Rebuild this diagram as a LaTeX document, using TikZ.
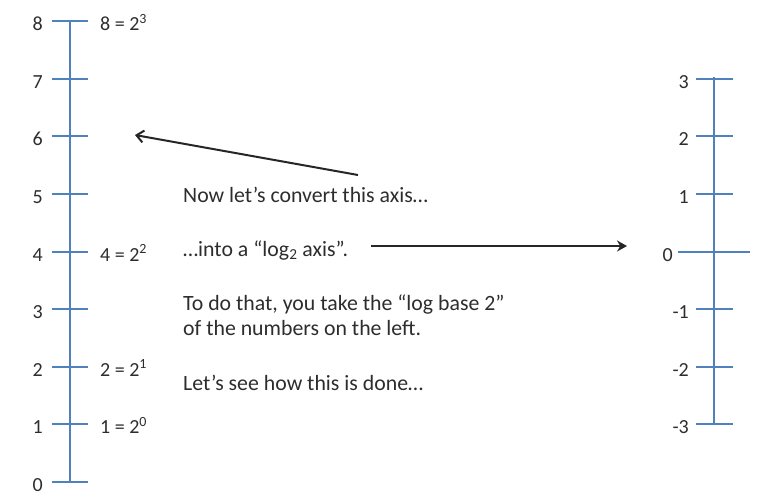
\documentclass[tikz,border=0pt]{standalone}
\usepackage{fontspec}
\setmainfont{Carlito}
\usetikzlibrary{arrows.meta}
\definecolor{axisblue}{RGB}{79,129,189}
\definecolor{textgray}{RGB}{45,45,45}
\begin{document}
\begin{tikzpicture}
[x=1pt,y=-1pt,
  axisDecorate/.style={draw=axisblue,line width=2pt},
  arrowDecorate/.style={line width=2pt,draw=black!85},
  labelDecorate/.style={font=\fontsize{20}{25}\selectfont,text=textgray,inner sep=0pt},
  textDecorate/.style={labelDecorate,font=\fontsize{21.8}{26}\selectfont,anchor=base west}]
\useasboundingbox (0,0) rectangle (783,499);
%% left axis
\draw[axisDecorate] (70,21) -- (70,482);
\foreach \k in {0,...,8}
{
  \draw[axisDecorate] (52,{482-57.6*\k}) -- (88,{482-57.6*\k});
  \node[labelDecorate,anchor=base east] (l\k) at (43,{491.5-57.6*\k}) {\k};
}
%% powers of two
\foreach \k/\p in {8/3, 4/2, 2/1, 1/0}
{
  \node[labelDecorate,anchor=base west] (p\k) at (100,{491.5-57.6*\k})
    {\k{} = 2\textsuperscript{\p}};
}
%% right axis
\draw[axisDecorate] (714,77) -- (714,424);
\foreach \j in {-3,...,3}
{
  \ifnum\j=0
    \draw[axisDecorate] (678,{251.6-57.6*\j}) -- (750,{251.6-57.6*\j});
    \node[labelDecorate,anchor=base east] (r\j) at (673,{261.1-57.6*\j}) {\j};
  \else
    \draw[axisDecorate] (696,{251.6-57.6*\j}) -- (733,{251.6-57.6*\j});
    \node[labelDecorate,anchor=base east] (r\j) at (689,{261.1-57.6*\j}) {\j};
  \fi
}
%% text
\node[textDecorate] (convert) at (183,202) {Now let’s convert this axis…};
\node[textDecorate] (into) at (183,256) {…into a “log\textsubscript{2} axis”.};
\node[textDecorate] (takelog) at (183,310) {To do that, you take the “log base 2”};
\node[textDecorate] (numbers) at (183,335) {of the numbers on the left.};
\node[textDecorate] (seehow) at (183,390) {Let’s see how this is done…};
%% arrows
\coordinate (convertTail) at (358,175);
\coordinate (convertHead) at (135,135);
\coordinate (intoTail) at (371,246);
\coordinate (intoHead) at (627,246);
\draw[arrowDecorate,-{Straight Barb[length=7pt,width=12pt]}] (convertTail) -- (convertHead);
\draw[arrowDecorate,line width=2.6pt,-{Stealth[length=10pt,width=11pt]}] (intoTail) -- (intoHead);
\end{tikzpicture}
\end{document}
